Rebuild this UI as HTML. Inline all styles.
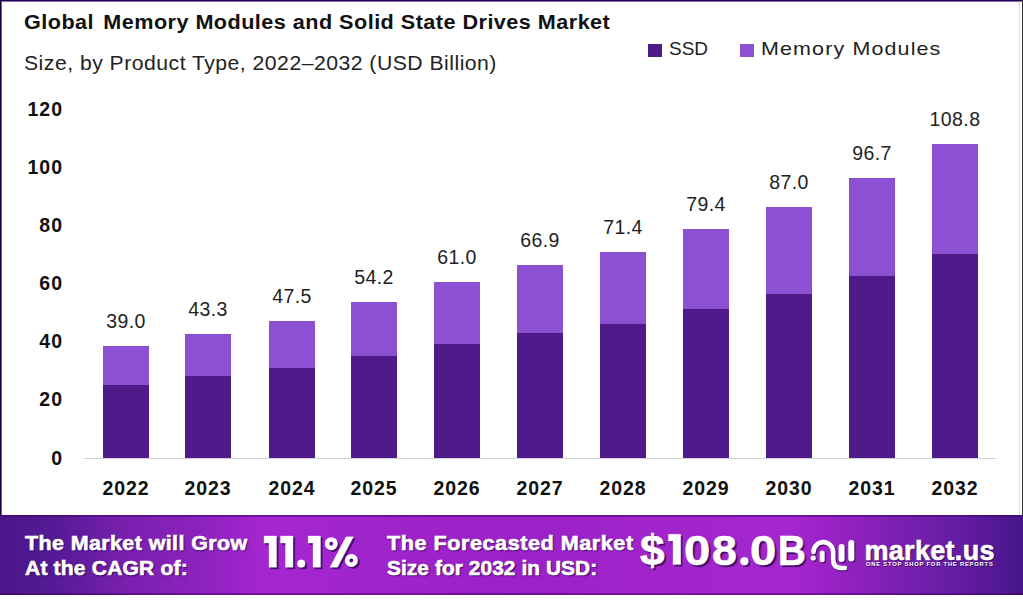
<!DOCTYPE html>
<html><head><meta charset="utf-8">
<style>
html,body{margin:0;padding:0;}
body{width:1023px;height:615px;position:relative;overflow:hidden;background:#fff;font-family:"Liberation Sans",sans-serif;}
.a{position:absolute;}
.title{position:absolute;left:23.5px;top:10px;font-size:20px;font-weight:bold;color:#111;white-space:pre;line-height:24px;letter-spacing:0.44px;transform:scaleX(1.08);transform-origin:0 0;}
.sub{position:absolute;left:24px;top:51px;font-size:20px;color:#222;white-space:pre;line-height:24px;letter-spacing:0.45px;transform:scaleX(1.06);transform-origin:0 0;}
.leg{position:absolute;font-size:19px;color:#222;line-height:22px;top:38px;white-space:pre;}
.sq{position:absolute;width:14px;height:13px;top:44px;}
.b{position:absolute;width:46px;}
.v{position:absolute;width:120px;text-align:center;font-size:19.5px;color:#222;line-height:22px;letter-spacing:0.4px;}
.yr{position:absolute;width:120px;text-align:center;font-size:19.5px;font-weight:bold;color:#111;line-height:22px;letter-spacing:0.9px;}
.yl{position:absolute;left:0;width:63px;letter-spacing:1px;text-align:right;font-size:19.5px;font-weight:bold;color:#111;line-height:22px;}
.axis{position:absolute;left:84px;top:458px;width:912px;height:1px;background:#d0d0d0;}
.banner{position:absolute;left:0;top:515px;width:1023px;height:80px;
 background:linear-gradient(90deg,#4a168c 0%,#541a94 5%,#7a20b0 12.5%,#8e22bf 20%,#a526cf 26%,#a024cc 35%,#9a22c6 50%,#a024ca 62%,#a526cf 77%,#9a22c6 81%,#7a20b0 88%,#641ca4 94%,#461688 100%);}
.btop{position:absolute;left:0;top:515px;width:1023px;height:2px;background:rgba(60,0,90,0.45);}
.bbot{position:absolute;left:0;top:593px;width:1023px;height:2px;background:rgba(60,0,90,0.45);}
.bt{position:absolute;color:#fff;font-weight:bold;-webkit-text-stroke:0.6px #fff;font-size:20px;line-height:25px;white-space:pre;text-shadow:1px 1px 1.5px #2a0650;}
.big{position:absolute;color:#fff;font-weight:bold;-webkit-text-stroke:0.6px #fff;font-size:43px;line-height:48px;white-space:pre;text-shadow:2px 2px 1px #3a0a60;}
</style></head><body>
<div class="a" style="left:0;top:0;width:1023px;height:1px;background:#200050"></div>
<div class="a" style="left:0;top:1px;width:1023px;height:1px;background:#8a70b0"></div>
<div class="a" style="left:0;top:0;width:1px;height:515px;background:#1c0040"></div>
<div class="a" style="left:1px;top:1px;width:1px;height:514px;background:#7a5aa0"></div>
<div class="a" style="left:1022px;top:0;width:1px;height:515px;background:#333"></div>
<div class="a" style="left:1019px;top:2px;width:1px;height:513px;background:#ddd"></div>
<div class="title">Global <span style="display:inline-block;width:2.5px"></span>Memory Modules and Solid State Drives Market</div>
<div class="sub">Size, by Product Type, 2022–2032 (USD Billion)</div>
<div class="sq" style="left:648px;background:#4f1a8a"></div>
<div class="leg" style="left:669px">SSD</div>
<div class="sq" style="left:740px;background:#8c50d2"></div>
<div class="leg" style="left:761px;letter-spacing:1px;transform:scaleX(1.13);transform-origin:0 0">Memory Modules</div>
<div class="yl" style="top:447px">0</div><div class="yl" style="top:388px">20</div><div class="yl" style="top:330px">40</div><div class="yl" style="top:272px">60</div><div class="yl" style="top:214px">80</div><div class="yl" style="top:156px">100</div><div class="yl" style="top:98px">120</div>
<div class="axis"></div>
<div class="b" style="left:103px;top:346px;height:39px;background:#8c50d2"></div><div class="b" style="left:103px;top:385px;height:73px;background:#4f1a8a"></div><div class="v" style="left:66.0px;top:310px">39.0</div><div class="yr" style="left:66.0px;top:477px">2022</div><div class="b" style="left:185px;top:334px;height:42px;background:#8c50d2"></div><div class="b" style="left:185px;top:376px;height:82px;background:#4f1a8a"></div><div class="v" style="left:148.0px;top:298px">43.3</div><div class="yr" style="left:148.0px;top:477px">2023</div><div class="b" style="left:269px;top:321px;height:47px;background:#8c50d2"></div><div class="b" style="left:269px;top:368px;height:90px;background:#4f1a8a"></div><div class="v" style="left:232.0px;top:285px">47.5</div><div class="yr" style="left:232.0px;top:477px">2024</div><div class="b" style="left:351px;top:302px;height:54px;background:#8c50d2"></div><div class="b" style="left:351px;top:356px;height:102px;background:#4f1a8a"></div><div class="v" style="left:314.0px;top:266px">54.2</div><div class="yr" style="left:314.0px;top:477px">2025</div><div class="b" style="left:434px;top:282px;height:62px;background:#8c50d2"></div><div class="b" style="left:434px;top:344px;height:114px;background:#4f1a8a"></div><div class="v" style="left:397.0px;top:246px">61.0</div><div class="yr" style="left:397.0px;top:477px">2026</div><div class="b" style="left:517px;top:265px;height:68px;background:#8c50d2"></div><div class="b" style="left:517px;top:333px;height:125px;background:#4f1a8a"></div><div class="v" style="left:480.0px;top:229px">66.9</div><div class="yr" style="left:480.0px;top:477px">2027</div><div class="b" style="left:600px;top:252px;height:72px;background:#8c50d2"></div><div class="b" style="left:600px;top:324px;height:134px;background:#4f1a8a"></div><div class="v" style="left:563.0px;top:216px">71.4</div><div class="yr" style="left:563.0px;top:477px">2028</div><div class="b" style="left:683px;top:229px;height:80px;background:#8c50d2"></div><div class="b" style="left:683px;top:309px;height:149px;background:#4f1a8a"></div><div class="v" style="left:646.0px;top:193px">79.4</div><div class="yr" style="left:646.0px;top:477px">2029</div><div class="b" style="left:766px;top:207px;height:87px;background:#8c50d2"></div><div class="b" style="left:766px;top:294px;height:164px;background:#4f1a8a"></div><div class="v" style="left:729.0px;top:171px">87.0</div><div class="yr" style="left:729.0px;top:477px">2030</div><div class="b" style="left:849px;top:178px;height:98px;background:#8c50d2"></div><div class="b" style="left:849px;top:276px;height:182px;background:#4f1a8a"></div><div class="v" style="left:812.0px;top:142px">96.7</div><div class="yr" style="left:812.0px;top:477px">2031</div><div class="b" style="left:932px;top:144px;height:110px;background:#8c50d2"></div><div class="b" style="left:932px;top:254px;height:204px;background:#4f1a8a"></div><div class="v" style="left:895.0px;top:108px">108.8</div><div class="yr" style="left:895.0px;top:477px">2032</div>
<div class="banner"></div><div class="btop"></div><div class="bbot"></div>
<div class="bt" style="left:25px;top:531px;letter-spacing:0.4px;transform:scaleX(1.07);transform-origin:0 0">The Market will Grow</div>
<div class="bt" style="left:25px;top:556px;letter-spacing:0.2px;transform:scaleX(1.05);transform-origin:0 0">At the CAGR of:</div>
<svg style="position:absolute;left:255px;top:528px" width="115" height="46" viewBox="255 528 115 46">
<defs><g id="pct">
<path d="M264 536 H276.5 V567.3 H269 V543 H264 Z"/>
<path d="M280.5 536 H293 V567.3 H285.5 V543 H280.5 Z"/>
<circle cx="301.3" cy="563.6" r="3.9"/>
<path d="M308.1 536 H320.5 V567.3 H313 V543 H308.1 Z"/>
<circle cx="331.3" cy="543.7" r="4.25" fill="none" stroke-width="4.5"/>
<circle cx="351.4" cy="560.4" r="4.25" fill="none" stroke-width="4.5"/>
<path d="M346 536.8 H353.5 L337.5 567.3 H330 Z"/>
</g></defs>
<use href="#pct" transform="translate(1.8,1.8)" fill="#3a0a60" stroke="#3a0a60" stroke-width="0.3" opacity="0.85"/>
<use href="#pct" fill="#fff" stroke="#fff" stroke-width="0.3"/>
</svg>
<div class="bt" style="left:387px;top:531px;letter-spacing:0.5px;transform:scaleX(1.08);transform-origin:0 0">The Forecasted Market</div>
<div class="bt" style="left:387px;top:556px;letter-spacing:0.1px;transform:scaleX(1.04);transform-origin:0 0">Size for 2032 in USD:</div>
<div class="big" style="left:640.3px;top:526px;transform:scaleX(1.03);transform-origin:0 0">$</div>
<div class="big" style="left:683.8px;top:526px;transform:scaleX(1.1);transform-origin:0 0">0</div>
<div class="big" style="left:712.4px;top:526px;transform:scaleX(1.04);transform-origin:0 0">8</div>
<div class="big" style="left:750.1px;top:526px;transform:scaleX(1.1);transform-origin:0 0">0</div>
<div class="big" style="left:777.8px;top:526px;transform:scaleX(0.9);transform-origin:0 0">B</div>
<svg style="position:absolute;left:660px;top:528px" width="95" height="46" viewBox="660 528 95 46">
<defs><g id="g1b">
<path d="M668.4 534.2 H680.7 V564.6 H673 V541 H668.4 Z"/>
<circle cx="744.4" cy="561.2" r="4"/>
</g></defs>
<use href="#g1b" transform="translate(1.8,1.8)" fill="#3a0a60" opacity="0.85"/>
<use href="#g1b" fill="#fff" stroke="#fff" stroke-width="0.3"/>
</svg>
<svg style="position:absolute;left:805px;top:530px" width="60" height="50" viewBox="805 530 60 50">
<defs><g id="logo">
<path d="M813.5 552 A9.8 9.8 0 0 1 833.2 552 L833.2 559.5 Q833.2 568 841.5 568 L845 568" fill="none" stroke-width="4.6" stroke-linecap="round"/>
<path d="M822.2 553 L822.2 559.8" fill="none" stroke-width="5" stroke-linecap="round"/>
<path d="M841.6 547 L841.6 559" fill="none" stroke-width="6" stroke-linecap="round"/>
<path d="M851.3 543 L851.3 558.5" fill="none" stroke-width="6" stroke-linecap="round"/>
<circle cx="813.2" cy="558" r="2.6" stroke="none"/>
</g></defs>
<use href="#logo" transform="translate(1.2,1.2)" fill="#3a0a60" stroke="#3a0a60" opacity="0.8"/>
<use href="#logo" fill="#fff" stroke="#fff"/>
</svg>
<div class="bt" style="left:864.5px;top:536px;font-size:27px;line-height:30px;letter-spacing:0.3px">market.us</div>
<div style="position:absolute;left:866px;top:561px;font-size:5.8px;font-weight:bold;color:#fff;letter-spacing:0.8px;text-shadow:0.5px 0.5px 0.5px #2a0650;white-space:pre;line-height:7px">ONE STOP SHOP FOR THE REPORTS</div>
</body></html>
